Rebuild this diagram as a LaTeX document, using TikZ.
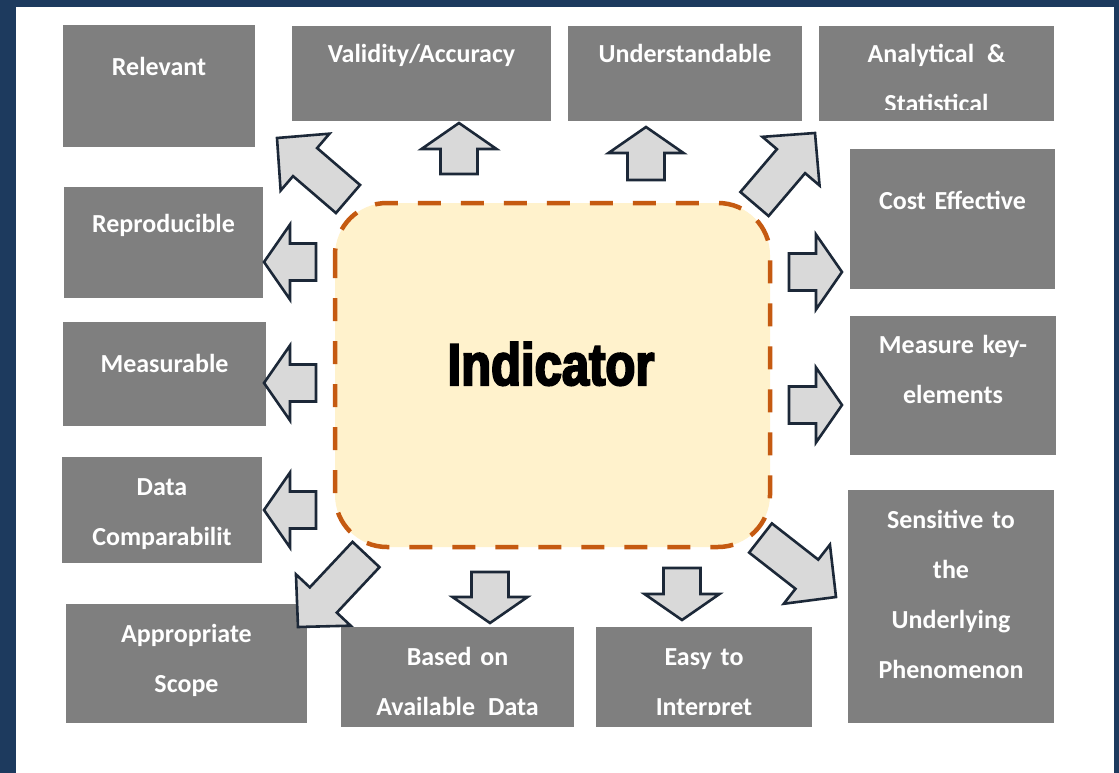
\documentclass[tikz,border=0pt]{standalone}
\usepackage{fontspec}
\setmainfont{Carlito}
\newfontfamily\headfont[FakeStretch=0.83,FakeBold=3.5]{Liberation Sans}
\usetikzlibrary{calc,fit}

\definecolor{navybg}{HTML}{1D3A5E}
\definecolor{boxgray}{HTML}{7F7F7F}
\definecolor{arrowfill}{HTML}{D9D9D9}
\definecolor{arrowline}{HTML}{1C2838}
\definecolor{dashorange}{HTML}{C55A11}
\definecolor{paleyellow}{HTML}{FFF2CC}

\tikzset{
  gbox/.style={fill=boxgray, draw=none, inner sep=0pt, outer sep=0pt},
  btext/.style={text=white, font=\fontsize{26}{50}\selectfont\bfseries,
                text width=230pt, align=center, inner sep=0pt, anchor=base},
  barrow/.style={fill=arrowfill, draw=arrowline, line width=2.6pt, line join=miter},
  core/.style={fill=paleyellow, draw=dashorange, line width=4.5pt,
               dash pattern=on 23pt off 20pt, rounded corners=52pt}
}

% block arrow from a tail point to a tip point; #3 = head length
\newcommand{\blockarrow}[3]{%
  \coordinate (#1-hb) at ($(#2)!#3!(#1)$);
  \draw[barrow] ($(#1)!18.5pt!90:(#2)$) -- ($(#1-hb)!18.5pt!90:(#2)$)
    -- ($(#1-hb)!37.5pt!90:(#2)$) -- (#2) -- ($(#1-hb)!37.5pt!-90:(#2)$)
    -- ($(#1-hb)!18.5pt!-90:(#2)$) -- ($(#1)!18.5pt!-90:(#2)$) -- cycle;
}

\begin{document}
\begin{tikzpicture}[x=1pt,y=-1pt]
\useasboundingbox (0,0) rectangle (1119,773);
\fill[navybg] (0,0) rectangle (1119,773);
\fill[white] (16,7) rectangle (1114,773);

% surrounding boxes
\node[gbox, fit={(63,25) (255,147)}] (relevant) {};
\node[gbox, fit={(292,26) (551,121)}] (validity) {};
\node[gbox, fit={(568,26) (802,121)}] (understand) {};
\node[gbox, fit={(819,26) (1054,121)}] (analytical) {};
\node[gbox, fit={(850,149) (1055,289)}] (cost) {};
\node[gbox, fit={(64,187) (263,298)}] (reproducible) {};
\node[gbox, fit={(63,322) (266,426)}] (measurable) {};
\node[gbox, fit={(850,316) (1056,455)}] (keyelem) {};
\node[gbox, fit={(62,457) (262,563)}] (comparab) {};
\node[gbox, fit={(66,604) (307,723)}] (scope) {};
\node[gbox, fit={(341,627) (574,727)}] (available) {};
\node[gbox, fit={(596,627) (812,727)}] (easy) {};
\node[gbox, fit={(848,490) (1054,723)}] (sensitive) {};

% box labels
\node[btext] (relevant-t) at (159,76) {Relevant};
\node[btext] (validity-t) at (421.5,63) {Validity/Accuracy};
\node[btext] (understand-t) at (685,63) {Understandable};
\begin{scope}
  \clip (819,26) rectangle (1054,110);
  \node[btext] (analytical-t) at (936.5,63) {Analytical \,\&\\Statistical};
\end{scope}
\node[btext] (cost-t) at (952.5,209) {Cost Effective};
\node[btext] (reproducible-t) at (163.5,232) {Reproducible};
\node[btext] (measurable-t) at (164.5,372) {Measurable};
\node[btext] (keyelem-t) at (953,353) {Measure key-\\elements};
\node[btext] (comparab-t) at (162,495) {Data\\Comparabilit};
\node[btext] (scope-t) at (186.5,642) {Appropriate\\Scope};
\node[btext] (available-t) at (457.5,665) {Based on\\Available \,Data};
\begin{scope}
  \clip (596,627) rectangle (812,714);
  \node[btext] (easy-t) at (704,665) {Easy to\\Interpret};
\end{scope}
\node[btext] (sensitive-t) at (951,528) {Sensitive to\\the\\Underlying\\Phenomenon};

% central element
\draw[core] (335,203) rectangle (770,547);
\node[anchor=base, inner sep=0pt, font=\headfont\bfseries\fontsize{59}{60}\selectfont] (indicator) at (551,385) {Indicator};

% arrows pointing outward
\coordinate (a1) at (348,199);   \coordinate (a1t) at (277,138);
\coordinate (a2) at (459,174);   \coordinate (a2t) at (459,123);
\coordinate (a3) at (646,180);   \coordinate (a3t) at (646,127);
\coordinate (a4) at (754.5,204); \coordinate (a4t) at (815,133);
\coordinate (a5) at (316,262);   \coordinate (a5t) at (264,262);
\coordinate (a6) at (316,383);   \coordinate (a6t) at (264,383);
\coordinate (a7) at (316,510);   \coordinate (a7t) at (264,510);
\coordinate (a8) at (789,272);   \coordinate (a8t) at (842,272);
\coordinate (a9) at (789,405);   \coordinate (a9t) at (842,405);
\coordinate (a10) at (366,554.5);\coordinate (a10t) at (298,627);
\coordinate (a11) at (490,572);  \coordinate (a11t) at (490,623);
\coordinate (a12) at (682,568);  \coordinate (a12t) at (682,620);
\coordinate (a13) at (760.5,538);\coordinate (a13t) at (836,597);

\blockarrow{a1}{a1t}{37pt}
\blockarrow{a2}{a2t}{26pt}
\blockarrow{a3}{a3t}{26pt}
\blockarrow{a4}{a4t}{37pt}
\blockarrow{a5}{a5t}{26pt}
\blockarrow{a6}{a6t}{26pt}
\blockarrow{a7}{a7t}{26pt}
\blockarrow{a8}{a8t}{26pt}
\blockarrow{a9}{a9t}{26pt}
\blockarrow{a10}{a10t}{37pt}
\blockarrow{a11}{a11t}{26pt}
\blockarrow{a12}{a12t}{26pt}
\blockarrow{a13}{a13t}{37pt}
\end{tikzpicture}
\end{document}
